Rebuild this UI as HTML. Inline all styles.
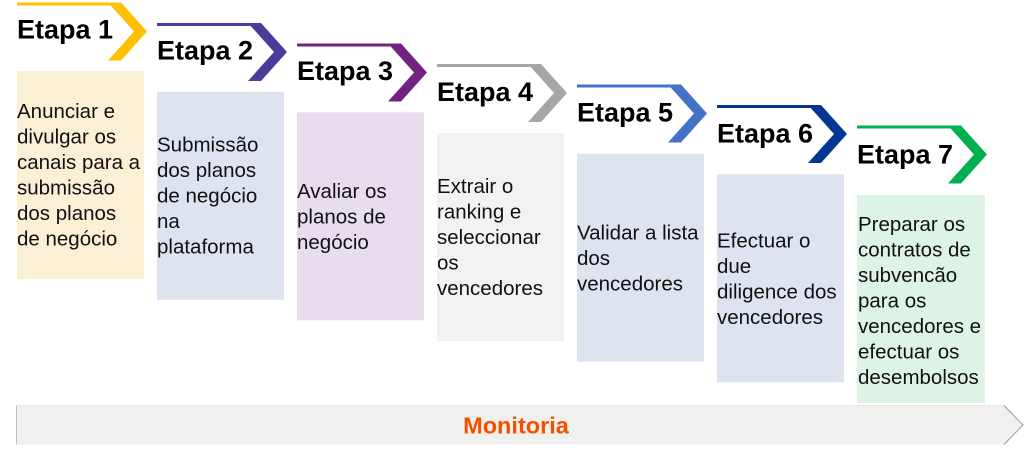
<!DOCTYPE html>
<html>
<head>
<meta charset="utf-8">
<style>
  html, body { margin:0; padding:0; background:#ffffff; }
  body { width:1024px; height:454px; overflow:hidden; }
  svg { display:block; }
  .h { font-family:"Liberation Sans", sans-serif; font-weight:bold; font-size:27px; fill:#000; }
  .t { font-family:"Liberation Sans", sans-serif; font-size:20.5px; fill:#111; }
  .m { font-family:"Liberation Sans", sans-serif; font-weight:bold; font-size:23.5px; fill:#f25000; }
</style>
</head>
<body>
<svg width="1024" height="454" viewBox="0 0 1024 454" xmlns="http://www.w3.org/2000/svg">
  <!-- Boxes -->
  <rect x="17"  y="71"    width="127" height="208" fill="#fbefd5"/>
  <rect x="157" y="91.7"  width="127" height="208" fill="#dde3ef"/>
  <rect x="297" y="112.3" width="127" height="208" fill="#e8dded"/>
  <rect x="437" y="133"   width="127" height="208" fill="#f2f2f2"/>
  <rect x="577" y="153.7" width="127" height="208" fill="#dde3ef"/>
  <rect x="717" y="174.3" width="127" height="208" fill="#dde3ef"/>
  <rect x="857" y="195"   width="128" height="208" fill="#ddf3e6"/>

  <!-- Chevrons -->
  <polygon fill="#ffc000" points="17,2.5 121,2.5 147,31.5 121,60.5 108,60.5 134,31.5 110.7,5.5 17,5.5"/>
  <polygon fill="#4b3b9b" points="157,23 261,23 287,52 261,81 248,81 274,52 250.7,26 157,26"/>
  <polygon fill="#71237f" points="297,43.5 401,43.5 427,72.5 401,101.5 388,101.5 414,72.5 390.7,46.5 297,46.5"/>
  <polygon fill="#a6a6a6" points="437,64 541,64 567,93 541,122 528,122 554,93 530.7,67 437,67"/>
  <polygon fill="#4472c4" points="577,84.5 681,84.5 707,113.5 681,142.5 668,142.5 694,113.5 670.7,87.5 577,87.5"/>
  <polygon fill="#043592" points="717,105 821,105 847,134 821,163 808,163 834,134 810.7,108 717,108"/>
  <polygon fill="#00b050" points="857,125.5 961,125.5 987,154.5 961,183.5 948,183.5 974,154.5 950.7,128.5 857,128.5"/>

  <!-- Stage headers -->
  <text class="h" x="17"  y="38.5">Etapa 1</text>
  <text class="h" x="157" y="59.3">Etapa 2</text>
  <text class="h" x="297" y="80.1">Etapa 3</text>
  <text class="h" x="437" y="100.9">Etapa 4</text>
  <text class="h" x="577" y="121.7">Etapa 5</text>
  <text class="h" x="717" y="142.5">Etapa 6</text>
  <text class="h" x="857" y="163.3">Etapa 7</text>

  <!-- Box texts -->
  <text class="t" x="17">
    <tspan x="17" y="118.2">Anunciar e</tspan>
    <tspan x="17" y="143.7">divulgar os</tspan>
    <tspan x="17" y="169.2">canais para a</tspan>
    <tspan x="17" y="194.7">submissão</tspan>
    <tspan x="17" y="220.2">dos planos</tspan>
    <tspan x="17" y="245.7">de negócio</tspan>
  </text>
  <text class="t">
    <tspan x="157" y="151.5">Submissão</tspan>
    <tspan x="157" y="177">dos planos</tspan>
    <tspan x="157" y="202.5">de negócio</tspan>
    <tspan x="157" y="228">na</tspan>
    <tspan x="157" y="253.5">plataforma</tspan>
  </text>
  <text class="t">
    <tspan x="297" y="197.8">Avaliar os</tspan>
    <tspan x="297" y="223.3">planos de</tspan>
    <tspan x="297" y="248.8">negócio</tspan>
  </text>
  <text class="t">
    <tspan x="437" y="193.2">Extrair o</tspan>
    <tspan x="437" y="218.7">ranking e</tspan>
    <tspan x="437" y="244.2">seleccionar</tspan>
    <tspan x="437" y="269.7">os</tspan>
    <tspan x="437" y="295.2">vencedores</tspan>
  </text>
  <text class="t">
    <tspan x="577" y="239.5">Validar a lista</tspan>
    <tspan x="577" y="265">dos</tspan>
    <tspan x="577" y="290.5">vencedores</tspan>
  </text>
  <text class="t">
    <tspan x="717" y="247.3">Efectuar o</tspan>
    <tspan x="717" y="272.8">due</tspan>
    <tspan x="717" y="298.3">diligence dos</tspan>
    <tspan x="717" y="323.8">vencedores</tspan>
  </text>
  <text class="t">
    <tspan x="858" y="231">Preparar os</tspan>
    <tspan x="858" y="256.5">contratos de</tspan>
    <tspan x="858" y="282">subvencão</tspan>
    <tspan x="858" y="307.5">para os</tspan>
    <tspan x="858" y="333">vencedores e</tspan>
    <tspan x="858" y="358.5">efectuar os</tspan>
    <tspan x="858" y="384">desembolsos</tspan>
  </text>

  <!-- Monitoria bar -->
  <path d="M16,405.5 H1004 L1023,425 L1004,444.5 H16 Z" fill="#f0f0ef"/>
  <line x1="16.5" y1="405.5" x2="16.5" y2="444.5" stroke="#bdbdbd" stroke-width="1"/>
  <polyline points="1004,405.5 1023,425 1004,444.5" fill="none" stroke="#9a9a9a" stroke-width="1"/>
  <line x1="16" y1="405.5" x2="1004" y2="405.5" stroke="#e6e6e6" stroke-width="1"/>
  <text class="m" x="516" y="433.5" text-anchor="middle">Monitoria</text>
</svg>
</body>
</html>
